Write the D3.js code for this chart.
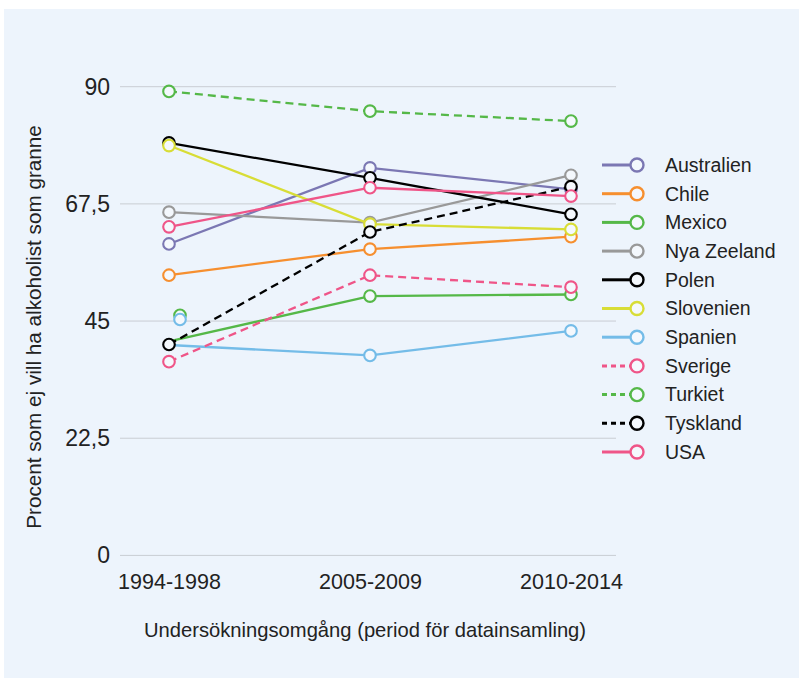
<!DOCTYPE html>
<html>
<head>
<meta charset="utf-8">
<script src="https://cdn.jsdelivr.net/npm/d3@7"></script>
<style>
	body { margin: 0; background: #fff; }
	svg { display: block; font-family: "Liberation Sans", Arial, sans-serif; }
</style>
</head>
<body>
<svg id="chart" width="799" height="679"></svg>
<script>
// periods on the x axis
const periods = ["1994-1998", "2005-2009", "2010-2014"];
const yTicks = [0, 22.5, 45, 67.5, 90];

const seriesNames = ["Australien", "Chile", "Mexico", "Nya Zeeland", "Polen", "Slovenien",
	"Spanien", "Sverige", "Turkiet", "Tyskland", "USA"];
const seriesColors = ["#7b77b3", "#f68f2f", "#55b848", "#999999", "#000000", "#d8dd36",
	"#74bce8", "#ef5588", "#55b848", "#000000", "#ef5588"];
const seriesDashed = [false, false, false, false, false, false, false, true, true, true, false];

// values per series, one per period
const australien = [59.8, 74.4, 70.3];
const chile = [53.8, 58.8, 61.2];
const mexico = [41.1, 49.8, 50.1];
const nyaZeeland = [65.9, 63.9, 73.0];
const polen = [79.2, 72.5, 65.5];
const slovenien = [78.7, 63.6, 62.6];
const spanien = [40.4, 38.4, 43.1];
const sverige = [37.2, 53.8, 51.5];
const turkiet = [89.1, 85.3, 83.4];
const tyskland = [40.5, 62.1, 70.8];
const usa = [63.1, 70.6, 69.0];
const seriesValues = [australien, chile, mexico, nyaZeeland, polen, slovenien,
	spanien, sverige, turkiet, tyskland, usa];

// two markers in the first period stand apart from their lines
const strayMarkerSeries = ["Mexico", "Spanien"];
const strayMarkerValues = [46.1, 45.3];

const svg = d3.select("#chart");

svg.append("rect")
	.attr("x", 4).attr("y", 9)
	.attr("width", 795).attr("height", 669)
	.attr("fill", "#edf4fc");

const x = d3.scalePoint()
	.domain(periods)
	.range([169, 571]);

const y = d3.scaleLinear()
	.domain([0, 90])
	.range([555.4, 86.7]);

// grid lines
svg.append("g")
	.selectAll("line")
	.data(yTicks)
	.join("line")
	.attr("x1", 120).attr("x2", 616)
	.attr("y1", d => y(d)).attr("y2", d => y(d))
	.attr("stroke", "#c9cdd3")
	.attr("stroke-width", 1);

const fmt = d => String(d).replace(".", ",");

// y axis
const yAxis = svg.append("g")
	.attr("transform", "translate(110,0)")
	.call(d3.axisLeft(y).tickValues(yTicks).tickFormat(fmt).tickSize(0).tickPadding(0));
yAxis.select(".domain").remove();
yAxis.selectAll("text")
	.attr("font-size", 23)
	.attr("fill", "#222")
	.attr("font-family", "Liberation Sans, Arial, sans-serif");

// x axis
const xAxis = svg.append("g")
	.attr("transform", "translate(0,569)")
	.call(d3.axisBottom(x).tickSize(0).tickPadding(0));
xAxis.select(".domain").remove();
xAxis.selectAll("text")
	.attr("font-size", 21.5)
	.attr("fill", "#222")
	.attr("dy", "0.95em")
	.attr("font-family", "Liberation Sans, Arial, sans-serif");

// axis titles
svg.append("text")
	.attr("x", 365).attr("y", 637)
	.attr("text-anchor", "middle")
	.attr("font-size", 20.2)
	.attr("fill", "#222")
	.text("Undersökningsomgång (period för datainsamling)");

svg.append("text")
	.attr("transform", "translate(41,327) rotate(-90)")
	.attr("text-anchor", "middle")
	.attr("font-size", 20.7)
	.attr("fill", "#222")
	.text("Procent som ej vill ha alkoholist som granne");

const line = d3.line()
	.x((d, i) => x(periods[i]))
	.y(d => y(d));

const series = seriesNames.map((name, i) => ({
	name: name,
	color: seriesColors[i],
	dashed: seriesDashed[i],
	values: seriesValues[i]
}));

const groups = svg.append("g")
	.selectAll("g")
	.data(series)
	.join("g");

groups.append("path")
	.attr("d", d => line(d.values))
	.attr("fill", "none")
	.attr("stroke", d => d.color)
	.attr("stroke-width", 2.3)
	.attr("stroke-dasharray", d => d.dashed ? "8,5" : null);

groups.each(function(s) {
	const g = d3.select(this);
	const k = strayMarkerSeries.indexOf(s.name);
	g.selectAll("circle")
		.data(s.values.map((v, i) => ({v: v, i: i})))
		.join("circle")
		.attr("cx", d => x(periods[d.i]) + (k >= 0 && d.i === 0 ? 11 : 0))
		.attr("cy", d => y(k >= 0 && d.i === 0 ? strayMarkerValues[k] : d.v))
		.attr("r", 5.8)
		.attr("fill", "#f4f8fd")
		.attr("stroke", s.color)
		.attr("stroke-width", 2.1);
});

// legend
const legend = svg.append("g")
	.selectAll("g")
	.data(series)
	.join("g")
	.attr("transform", (d, i) => `translate(0,${165 + i * 28.7})`);

legend.append("line")
	.attr("x1", 602).attr("x2", 631)
	.attr("stroke", d => d.color)
	.attr("stroke-width", 3)
	.attr("stroke-dasharray", d => d.dashed ? "5,4" : null);

legend.append("circle")
	.attr("cx", 637)
	.attr("r", 6.5)
	.attr("fill", "#f4f8fd")
	.attr("stroke", d => d.color)
	.attr("stroke-width", 2.4);

legend.append("text")
	.attr("x", 665)
	.attr("dy", "0.35em")
	.attr("font-size", 19.5)
	.attr("fill", "#222")
	.text(d => d.name);
</script>
</body>
</html>
